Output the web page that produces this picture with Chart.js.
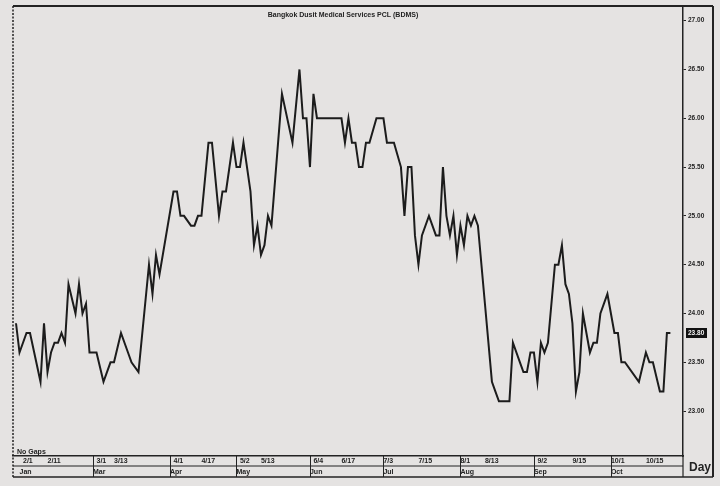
<!DOCTYPE html>
<html><head><meta charset="utf-8">
<script src="https://cdn.jsdelivr.net/npm/chart.js@4"></script>
<style>html,body{margin:0;padding:0;background:#e5e3e2;} #wrap{width:720px;height:486px;position:relative;}</style>
</head><body><div id="wrap"><canvas id="c"></canvas></div>
<script>
const chartTitle = 'Bangkok Dusit Medical Services PCL (BDMS)';
const tradingDay = [0,1,3,4,7,8,9,10,11,12,13,14,15,17,18,19,20,21,23,25,27,28,30,32,33,35,38,39,40,41,45,46,47,48,50,51,52,53,55,56,58,59,60,62,63,64,65,67,68,69,70,71,72,73,76,79,81,82,83,84,85,86,93,94,95,96,97,98,99,100,101,103,105,106,108,110,111,112,113,114,115,116,118,120,121,122,123,124,125,126,127,128,129,130,131,132,134,136,137,138,141,142,144,145,146,147,148,149,150,151,152,154,155,156,157,158,159,160,161,162,164,165,166,167,169,171,172,173,174,178,180,181,182,184,185,186,187];
const closePrice = [23.9,23.6,23.8,23.8,23.3,23.9,23.4,23.6,23.7,23.7,23.8,23.7,24.3,24.0,24.3,24.0,24.1,23.6,23.6,23.3,23.5,23.5,23.8,23.6,23.5,23.4,24.5,24.2,24.6,24.4,25.25,25.25,25.0,25.0,24.9,24.9,25.0,25.0,25.75,25.75,25.0,25.25,25.25,25.75,25.5,25.5,25.75,25.25,24.7,24.9,24.6,24.7,25.0,24.9,26.25,25.75,26.5,26.0,26.0,25.5,26.25,26.0,26.0,25.75,26.0,25.75,25.75,25.5,25.5,25.75,25.75,26.0,26.0,25.75,25.75,25.5,25.0,25.5,25.5,24.8,24.5,24.8,25.0,24.8,24.8,25.5,25.0,24.8,25.0,24.6,24.9,24.7,25.0,24.9,25.0,24.9,24.1,23.3,23.2,23.1,23.1,23.7,23.5,23.4,23.4,23.6,23.6,23.3,23.7,23.6,23.7,24.5,24.5,24.7,24.3,24.2,23.9,23.2,23.4,24.0,23.6,23.7,23.7,24.0,24.2,23.8,23.8,23.5,23.5,23.3,23.6,23.5,23.5,23.2,23.2,23.8,23.8];
const yTickValues = [23,23.5,24,24.5,25,25.5,26,26.5,27];
const dateTickDays = [2,9,23,28,45,53,64,70,85,93,105,115,127,134,149,159,170,180];
const dateTickLabels = ['2/1','2/11','3/1','3/13','4/1','4/17','5/2','5/13','6/4','6/17','7/3','7/15','8/1','8/13','9/2','9/15','10/1','10/15'];
const monthTickDays = [1,22,44,63,84,105,127,148,170];
const monthLabels = ['Jan','Mar','Apr','May','Jun','Jul','Aug','Sep','Oct'];
const monthStartDays = [22,44,63,84,105,127,148,170];

const FONT = "'Liberation Sans Narrow','Liberation Sans',Arial,sans-serif";
const INK = '#232323';

const decor = {
  id: 'decor',
  beforeDraw(chart) {
    const c = chart.ctx;
    c.save();
    c.fillStyle = '#e5e3e2';
    c.fillRect(0, 0, chart.width, chart.height);
    c.restore();
  },
  afterDraw(chart) {
    const c = chart.ctx, a = chart.chartArea;
    const xs = chart.scales.x, x2 = chart.scales.x2, ys = chart.scales.y;
    const outerR = 713, bottom = x2.bottom;
    c.save();
    c.strokeStyle = INK;
    c.lineWidth = 2;
    c.beginPath(); c.moveTo(a.left, a.top); c.lineTo(outerR, a.top); c.stroke();
    c.beginPath(); c.moveTo(outerR, a.top); c.lineTo(outerR, bottom); c.stroke();
    c.lineWidth = 1.5; c.setLineDash([2, 1.5]);
    c.beginPath(); c.moveTo(a.left, a.top); c.lineTo(a.left, bottom); c.stroke();
    c.setLineDash([]);
    c.lineWidth = 1.2;
    c.beginPath(); c.moveTo(a.left, xs.bottom); c.lineTo(a.right, xs.bottom); c.stroke();
    c.lineWidth = 1.6;
    c.beginPath(); c.moveTo(a.left, bottom); c.lineTo(outerR, bottom); c.stroke();
    c.lineWidth = 1.2;
    c.beginPath(); c.moveTo(a.right, a.bottom); c.lineTo(a.right, bottom); c.stroke();
    c.lineWidth = 1;
    monthStartDays.forEach(d => {
      const px = Math.round(xs.getPixelForValue(d)) + 0.5;
      c.beginPath(); c.moveTo(px, xs.top); c.lineTo(px, bottom); c.stroke();
    });
    c.fillStyle = INK;
    c.textBaseline = 'middle';
    c.textAlign = 'center';
    c.font = 'bold 7px ' + FONT;
    c.fillText(chartTitle, 343, 15);
    c.textAlign = 'left';
    c.font = 'bold 7px ' + FONT;
    c.fillText('No Gaps', a.left + 4, a.bottom - 4);
    c.font = 'bold 12px ' + FONT;
    c.fillText('Day', a.right + 6, (a.bottom + bottom) / 2 + 1);
    const last = closePrice[closePrice.length - 1];
    const py = ys.getPixelForValue(last);
    c.fillStyle = '#111';
    c.fillRect(a.right + 3, py - 5, 21, 10);
    c.fillStyle = '#f2f2f2';
    c.font = 'bold 6.5px ' + FONT;
    c.fillText(last.toFixed(2), a.right + 5, py + 0.5);
    c.restore();
  }
};

new Chart(document.getElementById('c'), {
  type: 'line',
  data: {
    datasets: [{
      data: tradingDay.map((d, i) => ({ x: d, y: closePrice[i] })),
      borderColor: '#1c1c1c',
      borderWidth: 2,
      pointRadius: 0,
      tension: 0,
      fill: false
    }]
  },
  options: {
    responsive: true,
    maintainAspectRatio: false,
    animation: false,
    layout: { padding: { left: 13, top: 6, right: 7, bottom: 9 } },
    plugins: { legend: { display: false }, tooltip: { enabled: false }, title: { display: false } },
    scales: {
      x: {
        type: 'linear', position: 'bottom', weight: 1,
        min: -0.86, max: 190.6,
        afterBuildTicks: s => { s.ticks = dateTickDays.map(v => ({ value: v })); },
        afterFit: s => { s.height = 10; },
        ticks: {
          autoSkip: false, maxRotation: 0, minRotation: 0, align: 'start', padding: 1,
          color: INK, font: { size: 7, weight: 'bold', family: FONT },
          callback: (v, i) => dateTickLabels[i]
        },
        grid: { display: false, drawTicks: false, tickLength: 0 },
        border: { display: true, color: INK, width: 1.6 }
      },
      x2: {
        type: 'linear', position: 'bottom', weight: 2,
        min: -0.86, max: 190.6,
        afterBuildTicks: s => { s.ticks = monthTickDays.map(v => ({ value: v })); },
        afterFit: s => { s.height = 11; },
        ticks: {
          autoSkip: false, maxRotation: 0, minRotation: 0, align: 'start', padding: 2,
          color: INK, font: { size: 7, weight: 'bold', family: FONT },
          callback: (v, i) => monthLabels[i]
        },
        grid: { display: false, drawTicks: false, tickLength: 0 },
        border: { display: false }
      },
      y: {
        type: 'linear', position: 'right',
        min: 22.54, max: 27.15,
        afterBuildTicks: s => { s.ticks = yTickValues.map(v => ({ value: v })); },
        afterFit: s => { s.width = 30; },
        ticks: {
          padding: 2, color: INK, font: { size: 6.5, weight: 'bold', family: FONT },
          callback: v => Number(v).toFixed(2)
        },
        grid: { drawOnChartArea: false, drawTicks: true, tickLength: 3, color: INK },
        border: { display: true, color: INK, width: 1.5, dash: [2, 1.5] }
      }
    }
  },
  plugins: [decor]
});
</script>
</body></html>
